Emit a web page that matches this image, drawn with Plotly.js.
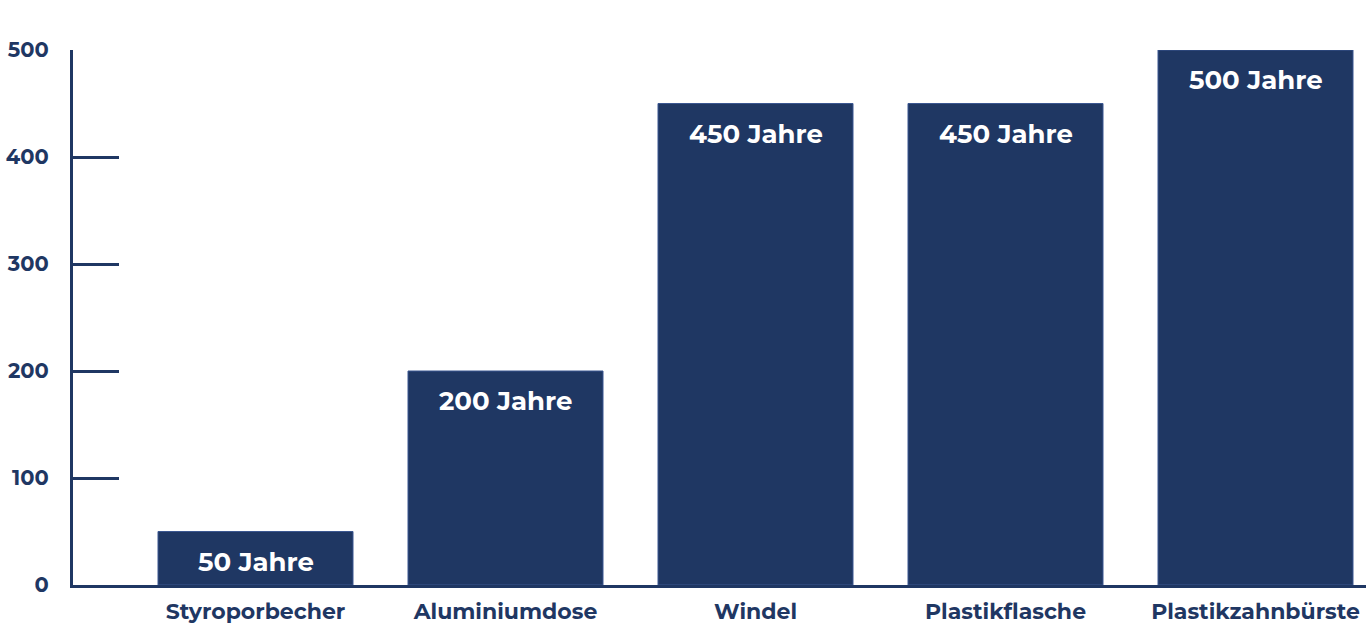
<!DOCTYPE html>
<html>
<head>
<meta charset="utf-8">
<script src="https://cdn.plot.ly/plotly-3.0.1.min.js"></script>
<style>
  html, body { margin: 0; padding: 0; background: #ffffff; }
  #chart { width: 1366px; height: 638px; }
</style>
</head>
<body>
<div id="chart"></div>
<script>
// Zersetzungsdauer verschiedener Abfälle (in Jahren)
const items = ["Styroporbecher", "Aluminiumdose", "Windel", "Plastikflasche", "Plastikzahnbürste"];
const years = [50, 200, 450, 450, 500];
const valueLabels = ["50 Jahre", "200 Jahre", "450 Jahre", "450 Jahre", "500 Jahre"];
const yTicks = [0, 100, 200, 300, 400, 500];

const navy = "#1f3763";
const fontFamily = "Montserrat, 'Open Sans', 'DejaVu Sans', sans-serif";

const trace = {
  type: "bar",
  x: items,
  y: years,
  width: 0.78,
  marker: { color: navy, line: { color: "#3b5791", width: 1 } },
  hoverinfo: "x+y"
};

const annotations = items.map((name, i) => ({
  x: name,
  y: years[i],
  xref: "x",
  yref: "y",
  text: valueLabels[i],
  showarrow: false,
  yanchor: "middle",
  yshift: -30,
  font: { family: fontFamily, size: 26, color: "#ffffff", weight: 700 }
}));

const layout = {
  width: 1366,
  height: 638,
  margin: { l: 73, r: 0, t: 50, b: 53 },
  paper_bgcolor: "#ffffff",
  plot_bgcolor: "#ffffff",
  showlegend: false,
  bargap: 0.22,
  font: { family: fontFamily, color: navy, size: 20, weight: 700 },
  xaxis: {
    type: "category",
    range: [-0.73, 4.442],
    showline: true,
    linecolor: navy,
    linewidth: 3,
    showgrid: false,
    zeroline: false,
    ticks: "",
    ticklabelstandoff: 5,
    tickfont: { family: fontFamily, size: 22, color: navy, weight: 700 },
    fixedrange: true
  },
  yaxis: {
    range: [0, 500],
    tickvals: yTicks,
    ticktext: yTicks.map(String),
    showline: true,
    linecolor: navy,
    linewidth: 3,
    showgrid: false,
    zeroline: false,
    ticks: "inside",
    ticklen: 46,
    tickwidth: 3,
    tickcolor: navy,
    ticklabelstandoff: 17,
    tickfont: { family: fontFamily, size: 21, color: navy, weight: 700 },
    fixedrange: true
  },
  annotations: annotations
};

Plotly.newPlot("chart", [trace], layout, { displayModeBar: false, staticPlot: true });
</script>
</body>
</html>
